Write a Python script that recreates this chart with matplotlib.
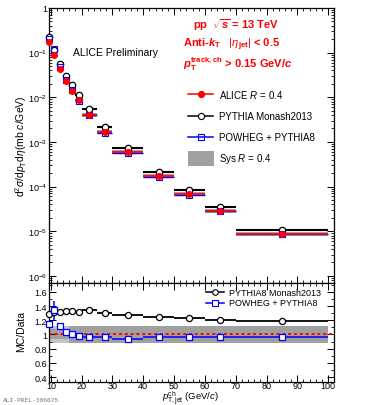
import matplotlib
matplotlib.use("Agg")
import matplotlib.pyplot as plt
import numpy as np
from matplotlib.ticker import FixedLocator, MultipleLocator, LogLocator, FuncFormatter, NullFormatter

plt.rcParams['font.family'] = ['Liberation Sans', 'DejaVu Sans']
plt.rcParams['mathtext.fontset'] = 'custom'
plt.rcParams['mathtext.rm'] = 'Liberation Sans'
plt.rcParams['mathtext.it'] = 'Liberation Sans:italic'
plt.rcParams['mathtext.bf'] = 'Liberation Sans:bold'
plt.rcParams['mathtext.bfit'] = 'Liberation Sans:bold:italic'

# ---------------- data ----------------
bin_lo = [9, 10, 12, 14, 16, 18, 20, 25, 30, 40, 50, 60, 70]
bin_hi = [10, 12, 14, 16, 18, 20, 25, 30, 40, 50, 60, 70, 100]
alice = [0.176, 0.089, 0.0432, 0.0229, 0.0141, 0.0085, 0.0041, 0.00166,
         5.9e-4, 1.72e-4, 6.7e-5, 2.9e-5, 8.8e-6]
ratio_pythia = [1.29, 1.31, 1.315, 1.33, 1.33, 1.32, 1.35, 1.30, 1.27, 1.245, 1.23, 1.20, 1.195]
ratio_pythia_err = [0.01, 0.01, 0.01, 0.01, 0.01, 0.01, 0.01, 0.01, 0.01, 0.01, 0.01, 0.01, 0.01]
ratio_powheg = [1.15, 1.34, 1.115, 1.04, 1.01, 0.977, 0.963, 0.958, 0.94, 0.963, 0.97, 0.963, 0.97]
ratio_powheg_err = [0.02, 0.13, 0.02, 0.01, 0.01, 0.01, 0.01, 0.01, 0.01, 0.01, 0.01, 0.01, 0.01]
sys_outer = [0.115, 0.115, 0.115, 0.115, 0.115, 0.115, 0.115, 0.115, 0.115, 0.115, 0.115, 0.115, 0.115]
sys_inner = [0.07, 0.07, 0.07, 0.07, 0.115, 0.115, 0.115, 0.115, 0.115, 0.115, 0.115, 0.115, 0.115]

lo = np.array(bin_lo, float)
hi = np.array(bin_hi, float)
x = (lo + hi) / 2
xerr = (hi - lo) / 2
y = np.array(alice)
rp = np.array(ratio_pythia)
rw = np.array(ratio_powheg)
y_py = y * rp
y_pw = y * rw

# ---------------- figure ----------------
W, H = 366, 406
fig = plt.figure(figsize=(W / 100, H / 100), dpi=100)
L, R = 49 / W, 334 / W
ax = fig.add_axes([L, 1 - 284 / H, R - L, (284 - 9) / H])
axr = fig.add_axes([L, 1 - 383 / H, R - L, (383 - 284) / H])

RED = '#ff0000'
BLUE = '#0000ff'
XMIN, XMAX = 9.4, 101.9

# top panel: sys boxes
for i in range(len(x)):
    ax.fill_between([lo[i], hi[i]], y[i] * (1 - 0.1), y[i] * (1 + 0.1),
                    color='#a0a0a0', lw=0, zorder=1)
ax.errorbar(x, y_py, xerr=xerr, fmt='none', ecolor='black', elinewidth=1.5, zorder=3)
ax.errorbar(x, y_pw, xerr=xerr, fmt='none', ecolor=BLUE, elinewidth=1.0, zorder=3)
ax.errorbar(x, y, xerr=xerr, fmt='none', ecolor=RED, elinewidth=1.2, zorder=4)
ax.plot(x, y_py, 'o', ms=4.6, mfc='white', mec='black', mew=0.9, zorder=5, clip_on=False)
ax.plot(x, y_pw, 's', ms=4.4, mfc='none', mec=BLUE, mew=0.8, zorder=6, clip_on=False)
ax.plot(x, y, 'o', ms=4.0, mfc=RED, mec=RED, zorder=7, clip_on=False)

ax.set_yscale('log')
ax.set_ylim(10 ** -6.16, 1)
ax.set_xlim(XMIN, XMAX)
ax.xaxis.set_major_locator(MultipleLocator(10))
ax.xaxis.set_minor_locator(MultipleLocator(2))
ax.xaxis.set_major_formatter(NullFormatter())
ax.yaxis.set_major_locator(FixedLocator([1e-6, 1e-5, 1e-4, 1e-3, 1e-2, 1e-1, 1]))
ax.yaxis.set_minor_locator(LogLocator(base=10, subs=np.arange(2, 10), numticks=20))
ax.yaxis.set_minor_formatter(NullFormatter())

def logfmt(v, pos):
    e = int(round(np.log10(v)))
    if e == 0:
        return '1'
    return r'$10^{%d}$' % e
ax.yaxis.set_major_formatter(FuncFormatter(logfmt))

for a in (ax, axr):
    a.tick_params(which='both', direction='in', top=True, right=True, labelsize=6.5, pad=1.5)
    a.tick_params(which='major', length=5, width=0.7)
    a.tick_params(which='minor', length=2.5, width=0.6)
    for s in a.spines.values():
        s.set_linewidth(0.9)
axr.tick_params(axis='x', pad=-0.8)

# axis titles placed as in the reference
fig.text(21 / W, 1 - 146 / H, r'd$^{2}\sigma$/d$p_{\rm T}$d$\eta$(mb $c$/GeV)', fontsize=7.5,
         rotation=90, va='center', ha='center')
fig.text(21 / W, 1 - 332 / H, 'MC/Data', fontsize=7.5, rotation=90, va='center', ha='center')
fig.text(190 / W, 1 - 398 / H, r'$p_{\rm T,jet}^{\rm ch}$ (GeV/$c$)', fontsize=6.8,
         va='center', ha='center')

# texts
fig.text(193 / W, 1 - 25 / H, r'pp  $\sqrt{\mathbfit{s}}$ = 13 TeV', color=RED,
         fontsize=8, fontweight='bold', va='center', ha='left')
fig.text(183 / W, 1 - 45 / H, r'Anti-$\mathbfit{k}_{\mathbf{T}}$   $|\eta_{\mathbf{jet}}|$ < 0.5',
         color=RED, fontsize=8, fontweight='bold', va='center', ha='left')
fig.text(183 / W, 1 - 64 / H, r'$\mathbfit{p}_{\mathbf{T}}^{\mathbf{track,ch}}$ > 0.15 GeV/$\mathbfit{c}$',
         color=RED, fontsize=8, fontweight='bold', va='center', ha='left')
fig.text(73 / W, 1 - 53 / H, 'ALICE Preliminary', fontsize=7.5, va='center', ha='left')

# top legend (axes coords)
def ax_x(px):
    return (px - 49) / 285
def ax_y(py):
    return (284 - py) / 275
tr = ax.transAxes
rows = [(95, RED, 'o', RED, RED, 'ALICE $R$ = 0.4'),
        (117, 'black', 'o', 'white', 'black', 'PYTHIA Monash2013'),
        (138, BLUE, 's', 'none', BLUE, 'POWHEG + PYTHIA8')]
for py, lc, mk, mfc, mec, lab in rows:
    ax.plot([ax_x(188), ax_x(213)], [ax_y(py)] * 2, color=lc, lw=1.1, transform=tr, zorder=8)
    ax.plot([ax_x(200.5)], [ax_y(py)], mk, ms=4.4, mfc=mfc, mec=mec,
            mew=0.8, transform=tr, zorder=9)
    ax.text(ax_x(219), ax_y(py), lab, fontsize=7, va='center', ha='left', transform=tr)
ax.add_patch(plt.Rectangle((ax_x(188), ax_y(167)), ax_x(214) - ax_x(188), ax_y(152) - ax_y(167),
                           transform=tr, color='#a0a0a0', lw=0))
ax.text(ax_x(219), ax_y(159.5), 'Sys $R$ = 0.4', fontsize=7, va='center', ha='left', transform=tr)

# ---------------- ratio panel ----------------
for i in range(len(x)):
    axr.fill_between([lo[i], hi[i]], 1 - sys_outer[i], 1 + sys_outer[i], color='#c4c4c4', lw=0, zorder=1)
    axr.fill_between([lo[i], hi[i]], 1 - sys_inner[i], 1 + sys_inner[i], color='#a0a0a0', lw=0, zorder=1)
axr.axhline(1, color=RED, ls=(0, (1.5, 1.5)), lw=1.4, zorder=2)
axr.errorbar(x, rp, xerr=xerr, yerr=ratio_pythia_err, fmt='none', ecolor='black', elinewidth=1.3, zorder=3)
axr.errorbar(x, rw, xerr=xerr, yerr=ratio_powheg_err, fmt='none', ecolor=BLUE, elinewidth=1.1, zorder=3)
axr.plot(x, rp, 'o', ms=4.4, mfc='white', mec='black', mew=0.9, zorder=5, clip_on=False)
axr.plot(x, rw, 's', ms=4.4, mfc='white', mec=BLUE, mew=0.9, zorder=5, clip_on=False)

axr.set_xlim(XMIN, XMAX)
axr.set_ylim(0.33, 1.725)
axr.xaxis.set_major_locator(MultipleLocator(10))
axr.xaxis.set_minor_locator(MultipleLocator(2))
axr.yaxis.set_major_locator(FixedLocator([0.4, 0.6, 0.8, 1.0, 1.2, 1.4, 1.6]))
axr.yaxis.set_minor_locator(MultipleLocator(0.1))
axr.yaxis.set_major_formatter(FuncFormatter(lambda v, p: '%g' % round(v, 2)))

def r_y(py):
    return (383 - py) / 99
trr = axr.transAxes
for py, lc, mk, mec, lab in [(293, 'black', 'o', 'black', 'PYTHIA8 Monash2013'),
                             (304, BLUE, 's', BLUE, 'POWHEG + PYTHIA8')]:
    axr.plot([ax_x(206), ax_x(224)], [r_y(py)] * 2, color=lc, lw=1.1, transform=trr)
    axr.plot([ax_x(215)], [r_y(py)], mk, ms=4.0, mfc='white', mec=mec, mew=0.8, transform=trr)
    axr.text(ax_x(229), r_y(py), lab, fontsize=6.5, va='center', ha='left', transform=trr)

fig.text(3 / W, 1 - 401 / H, 'ALI-PREL-306675', fontsize=4.5, color='#777777',
         family='DejaVu Sans Mono', va='center', ha='left')

fig.savefig('out.png', dpi=100)
